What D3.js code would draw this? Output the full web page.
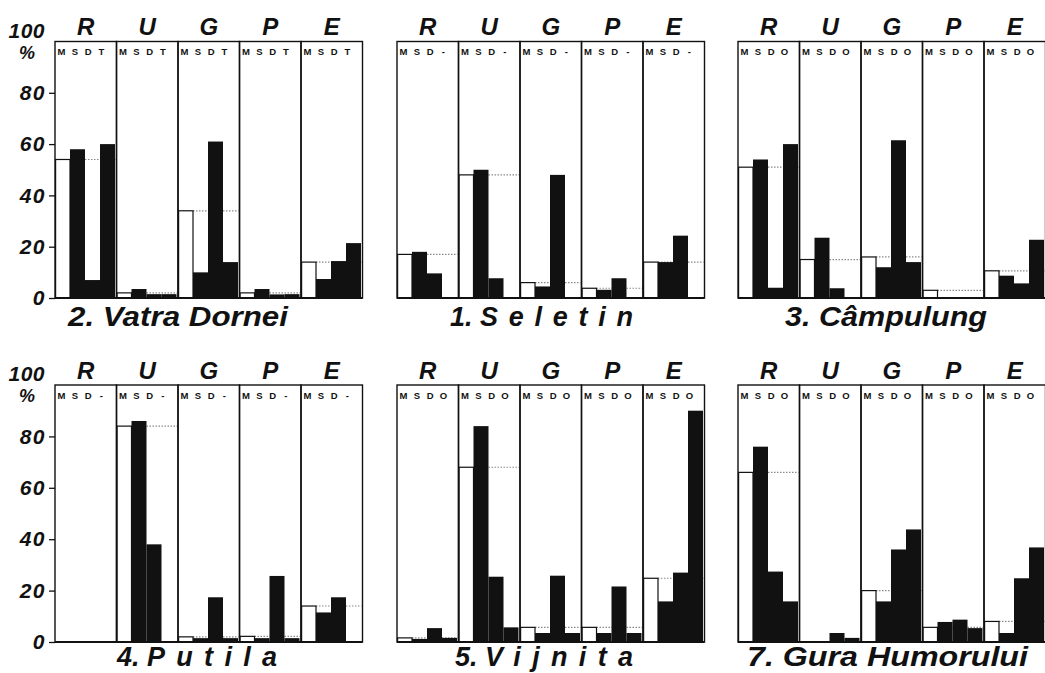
<!DOCTYPE html>
<html>
<head>
<meta charset="utf-8">
<script src="https://cdn.jsdelivr.net/npm/d3@7"></script>
<style>
  html, body { margin: 0; padding: 0; background: #fff; }
  svg { display: block; }
  text { font-family: "Liberation Sans", Arial, Helvetica, sans-serif; }
</style>
</head>
<body>
<svg id="chart" width="1045" height="673"></svg>
<script>
// Group letters above each panel and tick values of the percentage axis
const groups = ["R", "U", "G", "P", "E"];
const yTicks = [0, 20, 40, 60, 80];

// Panel titles (reading order: top row, then bottom row): number and place name
const titleNumbers = ["2.", "1.", "3.", "4.", "5.", "7."];
const titleNames = ["Vatra Dornei", "Seletin", "Câmpulung", "Putila", "Vijnita", "Gura  Humorului"];

// Column headers printed inside each group box
const headers = [
  ["M", "S", "D", "T"],
  ["M", "S", "D", "-"],
  ["M", "S", "D", "O"],
  ["M", "S", "D", "-"],
  ["M", "S", "D", "O"],
  ["M", "S", "D", "O"]
];

// Shares in % for groups R, U, G, P, E; each entry = [M, S, D, T/O]
const vatraDornei   = [[54, 58, 7, 60], [2, 3.5, 1.5, 1.5], [34, 10, 61, 14], [2, 3.5, 1.4, 1.5], [14, 7.4, 14.4, 21.4]];
const seletin       = [[17, 18, 9.6, 0], [48, 50, 7.7, 0], [6, 4.5, 48, 0], [3.8, 3.2, 7.7, 0], [14, 14, 24.3, 0]];
const campulung     = [[51, 54, 4, 60], [15, 23.5, 3.8, 0], [16, 12, 61.5, 14], [3, 0, 0, 0], [10.6, 8.7, 5.7, 22.7]];
const putila        = [[0, 0, 0, 0], [84, 86, 38, 0], [2, 1.5, 17.4, 1.5], [2.2, 1.5, 25.7, 1.5], [14, 11.5, 17.4, 0]];
const vijnita       = [[1.6, 1.2, 5.4, 1.6], [68, 84, 25.4, 5.7], [5.7, 3.5, 25.8, 3.5], [5.7, 3.5, 21.6, 3.5], [24.8, 15.8, 27, 90]];
const guraHumorului = [[66, 76, 27.4, 15.8], [0, 0, 3.5, 1.6], [20, 15.8, 36, 43.8], [5.7, 7.8, 8.7, 5.4], [8, 3.5, 24.8, 36.8]];

const panelData = [vatraDornei, seletin, campulung, putila, vijnita, guraHumorului];

// ---- layout ----
const svg = d3.select("#chart");
svg.append("rect").attr("width", 1045).attr("height", 673).attr("fill", "#fff");

const panelLeft = [55, 397, 738];
const panelWidth = 307.5;
const rows = [
  { y0: 298, y100: 41.5, titleY: 326 },
  { y0: 642, y100: 385, titleY: 665.5 }
];
// title placement: left x, printed width, and whether the name is letter-spaced
const titleBox = [
  { x: 68, w: 220, spaced: false }, { x: 450, w: 183, spaced: true }, { x: 785, w: 202, spaced: false },
  { x: 117, w: 160, spaced: true }, { x: 455, w: 178, spaced: true }, { x: 747, w: 281, spaced: false }
];

const ink = "#111";
const titleSize = 27;

panelData.forEach((data, p) => {
  const row = rows[Math.floor(p / 3)];
  const col = p % 3;
  const left = panelLeft[col];

  const y = d3.scaleLinear().domain([0, 100]).range([row.y0, row.y100]);
  const xg = d3.scaleBand().domain(groups).range([left, left + panelWidth]).paddingInner(0);
  const xs = d3.scaleBand().domain(d3.range(4)).range([0, xg.bandwidth() - 1.5]).paddingInner(0);

  const g = svg.append("g");

  // group letters above boxes
  g.selectAll("text.grp").data(groups).join("text")
    .attr("class", "grp")
    .attr("x", d => xg(d) + xg.bandwidth() / 2)
    .attr("y", row.y100 - 6.5)
    .attr("text-anchor", "middle")
    .attr("font-size", 24)
    .attr("font-weight", "bold")
    .attr("font-style", "italic")
    .attr("fill", ink)
    .text(d => d);

  const gg = g.selectAll("g.group").data(groups).join("g")
    .attr("class", "group")
    .attr("transform", d => `translate(${xg(d)},0)`);

  // dotted reference line at the M level
  gg.append("line")
    .attr("x1", xs(0) + xs.bandwidth())
    .attr("x2", xg.bandwidth() - 1)
    .attr("y1", (d, i) => y(data[i][0]))
    .attr("y2", (d, i) => y(data[i][0]))
    .attr("stroke", "#8a8a8a")
    .attr("stroke-width", 1.2)
    .attr("stroke-dasharray", "1.5,1.5")
    .attr("display", (d, i) => data[i][0] > 0 ? null : "none");

  // bars: M hollow, the others solid
  gg.each(function (d, i) {
    const vals = data[i];
    d3.select(this).selectAll("rect.bar").data(vals).join("rect")
      .attr("class", "bar")
      .attr("x", (v, k) => xs(k) + (k === 0 ? 0.6 : 0))
      .attr("width", (v, k) => xs.bandwidth() - (k === 0 ? 0.6 : 0))
      .attr("y", v => y(v))
      .attr("height", v => y(0) - y(v))
      .attr("fill", (v, k) => k === 0 ? "#fff" : ink)
      .attr("stroke", (v, k) => k === 0 ? ink : "none")
      .attr("stroke-width", 1.2)
      .attr("display", v => v > 0 ? null : "none");
  });

  // group boxes
  gg.append("rect")
    .attr("x", 0)
    .attr("y", y(100))
    .attr("width", xg.bandwidth())
    .attr("height", y(0) - y(100))
    .attr("fill", "none")
    .attr("stroke", ink)
    .attr("stroke-width", 1.4);

  // column headers inside the boxes
  gg.each(function () {
    d3.select(this).selectAll("text.hdr").data(headers[p]).join("text")
      .attr("class", "hdr")
      .attr("x", (h, k) => 6.5 + k * 13.3)
      .attr("y", y(100) + 13.5)
      .attr("text-anchor", "middle")
      .attr("font-size", 9.5)
      .attr("font-weight", "bold")
      .attr("fill", ink)
      .text(h => h);
  });

  // base line
  g.append("line")
    .attr("x1", left).attr("x2", left + panelWidth)
    .attr("y1", y(0)).attr("y2", y(0))
    .attr("stroke", ink).attr("stroke-width", 2);

  // percentage axis on the first panel of each row
  if (col === 0) {
    const axis = d3.axisLeft(y).tickValues(yTicks).tickSize(6).tickPadding(3);
    const ax = svg.append("g").attr("transform", `translate(${left},0)`).call(axis);
    ax.select(".domain").remove();
    ax.selectAll(".tick line").attr("stroke", ink).attr("stroke-width", 1.3);
    ax.selectAll(".tick text")
      .attr("font-size", 21)
      .attr("font-weight", "bold")
      .attr("font-style", "italic")
      .attr("letter-spacing", 1.5)
      .attr("fill", ink)
      .attr("font-family", "Liberation Sans, Arial, sans-serif");
    svg.append("text")
      .attr("x", left - 10).attr("y", y(100) - 4)
      .attr("text-anchor", "end")
      .attr("font-size", 21).attr("font-weight", "bold").attr("font-style", "italic")
      .attr("letter-spacing", 0.5)
      .attr("fill", ink)
      .text("100");
    svg.append("text")
      .attr("x", left - 28).attr("y", y(100) + 17)
      .attr("text-anchor", "middle")
      .attr("font-size", 18).attr("font-weight", "bold").attr("font-style", "italic")
      .attr("fill", ink)
      .text("%");
  }

  // panel title
  const tb = titleBox[p];
  const t = svg.append("text")
    .attr("x", tb.x)
    .attr("y", row.titleY)
    .attr("font-size", titleSize)
    .attr("font-weight", "bold")
    .attr("font-style", "italic")
    .attr("fill", ink);
  if (tb.spaced) {
    const head = t.append("tspan").text(titleNumbers[p] + " ");
    const name = t.append("tspan").text(titleNames[p]);
    // spread the name so the whole title fills its printed width
    const headW = head.node().getComputedTextLength();
    const nameW = name.node().getComputedTextLength();
    const n = titleNames[p].length;
    name.attr("letter-spacing", Math.max(0, (tb.w - headW - nameW) / (n - 1)));
  } else {
    t.attr("textLength", tb.w)
      .attr("lengthAdjust", "spacingAndGlyphs")
      .text(titleNumbers[p] + " " + titleNames[p]);
  }
});
</script>
</body>
</html>
